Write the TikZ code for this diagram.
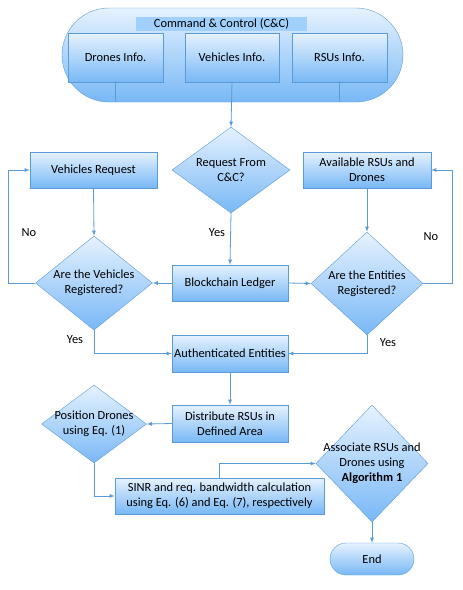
\documentclass[tikz,border=0pt]{standalone}
\usepackage{fontspec}
\setmainfont{Carlito}
\usetikzlibrary{shapes.geometric,shapes.misc}
\definecolor{edgeblue}{RGB}{91,155,213}
\definecolor{lightblue}{RGB}{230,242,254}
\definecolor{midblue}{RGB}{120,184,246}
\definecolor{barblue}{RGB}{160,208,251}
\begin{document}
\begin{tikzpicture}[x=1pt, y=-1pt,
  every node/.style={font=\fontsize{12.4}{15}\selectfont},
  box/.style={draw=edgeblue, top color=lightblue, bottom color=midblue, inner sep=0pt, align=center},
  dia/.style={diamond, draw=edgeblue, top color=lightblue, bottom color=midblue, inner sep=0pt},
  pill/.style={rounded rectangle, draw=edgeblue, top color=lightblue, bottom color=midblue, inner sep=0pt},
  line/.style={edgeblue, line width=0.8pt},
  arr/.style={line, ->, >=latex}]
\useasboundingbox (0,0) rectangle (463,590);

\node[pill, minimum width=341pt, minimum height=94pt] (cc) at (232.5,55) {};
\node[fill=barblue, inner sep=0pt, minimum width=171pt, minimum height=14pt] (ccbar) at (221.5,24) {Command \& Control (C\&C)};
\node[box, minimum width=95pt, minimum height=49pt] (dinfo) at (115.5,57.5) {Drones Info.};
\node[box, minimum width=94pt, minimum height=49pt] (vinfo) at (232,57.5) {Vehicles Info.};
\node[box, minimum width=95pt, minimum height=49pt] (rinfo) at (339.5,57.5) {RSUs Info.};

\node[dia, minimum width=118pt, minimum height=86pt, label={[align=center]center:Request From\\C\&C?}] (req) at (231,170) {};
\node[box, minimum width=127pt, minimum height=36pt] (vreq) at (93.5,170) {Vehicles Request};
\node[box, minimum width=128pt, minimum height=36pt] (avail) at (367,170) {Available RSUs and\\Drones};
\node[dia, minimum width=117pt, minimum height=94pt, label={[align=center]center:Are the Vehicles\\Registered?}] (vreg) at (94,283) {};
\node[dia, minimum width=112pt, minimum height=103pt, label={[align=center]center:Are the Entities\\Registered?}] (ereg) at (367,283.5) {};
\node[box, minimum width=116pt, minimum height=36pt] (ledger) at (230,283) {Blockchain Ledger};
\node[box, minimum width=116pt, minimum height=37pt] (auth) at (230,353.5) {Authenticated Entities};
\node[box, minimum width=116pt, minimum height=37pt] (dist) at (230,423.5) {Distribute RSUs in\\Defined Area};
\node[dia, minimum width=105pt, minimum height=78pt, label={[align=center]center:Position Drones\\using Eq. (1)}] (pos) at (94,424) {};
\node[box, minimum width=209pt, minimum height=36pt] (sinr) at (219.5,496) {SINR and req. bandwidth calculation\\using Eq. (6) and Eq. (7), respectively};
\node[dia, minimum width=112pt, minimum height=117pt, label={[align=center]center:Associate RSUs and\\Drones using\\\textbf{Algorithm 1}}] (assoc) at (372,463.5) {};
\node[pill, minimum width=84pt, minimum height=32pt] (finish) at (372,559) {End};

\node (no1) at (29,233) {No};
\node (no2) at (431,237) {No};
\node (yes1) at (217,233) {Yes};
\node (yes2) at (75,340) {Yes};
\node (yes3) at (388,343) {Yes};

\draw[line] (dinfo.south) -- (dinfo.south |- cc.south);
\draw[line] (rinfo.south) -- (rinfo.south |- cc.south);
\draw[arr] (vinfo.south) -- (req.north);
\draw[arr] (req.south) -- (ledger.north);
\draw[arr] (ledger.west) -- (vreg.east);
\draw[arr] (ledger.east) -- (ereg.west);
\draw[arr] (vreq.south) -- (vreg.north);
\draw[arr] (avail.south) -- (ereg.north);
\draw[arr] (vreg.west) -- ++(-27,0) |- (vreq.west);
\draw[arr] (ereg.east) -- ++(29,0) |- (avail.east);
\draw[arr] (vreg.south) |- (auth.west);
\draw[arr] (ereg.south) |- (auth.east);
\draw[arr] (auth.south) -- (dist.north);
\draw[arr] (dist.west) -- (pos.east);
\draw[arr] (pos.south) |- (sinr.west);
\draw[arr] (sinr.north) |- (assoc.west);
\draw[arr] (assoc.south) -- (finish.north);
\end{tikzpicture}
\end{document}
